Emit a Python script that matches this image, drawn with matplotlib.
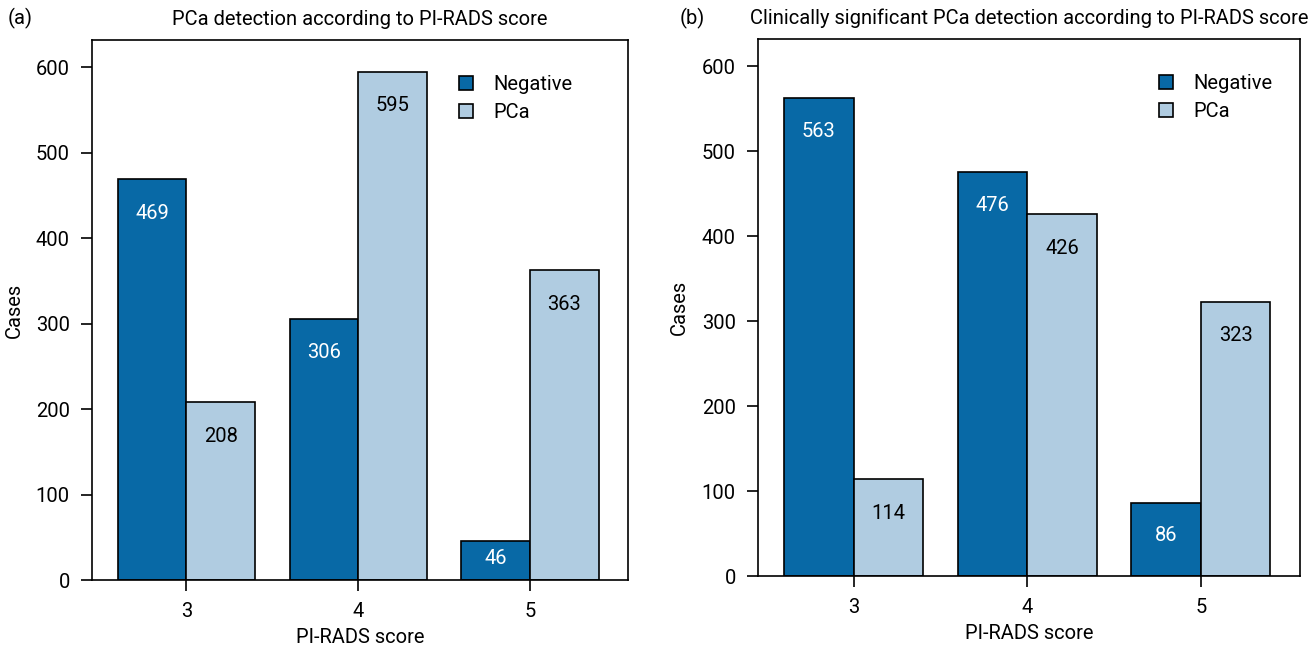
import matplotlib
matplotlib.use('Agg')
import matplotlib.pyplot as plt
import numpy as np

plt.rcParams['font.family'] = ['Roboto', 'DejaVu Sans']

scores = [3, 4, 5]
neg_a = [469, 306, 46]
pca_a = [208, 595, 363]
neg_b = [563, 476, 86]
pca_b = [114, 426, 323]
titles = ['PCa detection according to PI-RADS score',
          'Clinically significant PCa detection according to PI-RADS score']

dark = '#0869a6'
light = '#b0cce1'
w = 0.4
fs = 14.5

fig = plt.figure(figsize=(13.12, 6.47), dpi=100)
ax_a = fig.add_axes([92 / 1312, 1 - 580 / 647, 536 / 1312, 540 / 647])
ax_b = fig.add_axes([758 / 1312, 1 - 576 / 647, 542 / 1312, 537 / 647])
legend_x = [0.685, 0.74]


def label(ax, x, v, color):
    # labels sit near the top of the bar, small bars get theirs lower down
    y = v - 40 if v > 100 else v * 0.55
    ax.text(x, y, str(v), ha='center', va='center', color=color, fontsize=fs)


for ax, neg, pca, title, lx in zip([ax_a, ax_b], [neg_a, neg_b], [pca_a, pca_b],
                                   titles, legend_x):
    x = np.array(scores)
    ax.bar(x - w / 2, neg, w, color=dark, edgecolor='black', linewidth=1.2, label='Negative')
    ax.bar(x + w / 2, pca, w, color=light, edgecolor='black', linewidth=1.2, label='PCa')
    for xi, v in zip(x, neg):
        label(ax, xi - w / 2, v, 'white')
    for xi, v in zip(x, pca):
        label(ax, xi + w / 2, v, 'black')
    ax.set_xlim(2.45, 5.57)
    ax.set_ylim(0, 632)
    ax.set_xticks(scores)
    ax.set_yticks(range(0, 601, 100))
    ax.tick_params(labelsize=fs, length=8, width=1.2, pad=8)
    ax.set_xlabel('PI-RADS score', fontsize=fs, labelpad=5)
    ax.set_ylabel('Cases', fontsize=fs)
    ax.yaxis.set_label_coords(-0.128, 0.5)
    for s in ax.spines.values():
        s.set_linewidth(1.2)
    ax.legend(loc='upper left', bbox_to_anchor=(lx, 0.935), frameon=False, fontsize=fs,
              borderpad=0, borderaxespad=0,
              handlelength=0.7, handleheight=0.7, handletextpad=1.0, labelspacing=0.45)
    ax.set_title(title, fontsize=fs, pad=11)

fig.text(8 / 1312, 1 - 18 / 647, '(a)', fontsize=fs, va='center')
fig.text(680 / 1312, 1 - 18 / 647, '(b)', fontsize=fs, va='center')

fig.savefig('out.png', dpi=100)
